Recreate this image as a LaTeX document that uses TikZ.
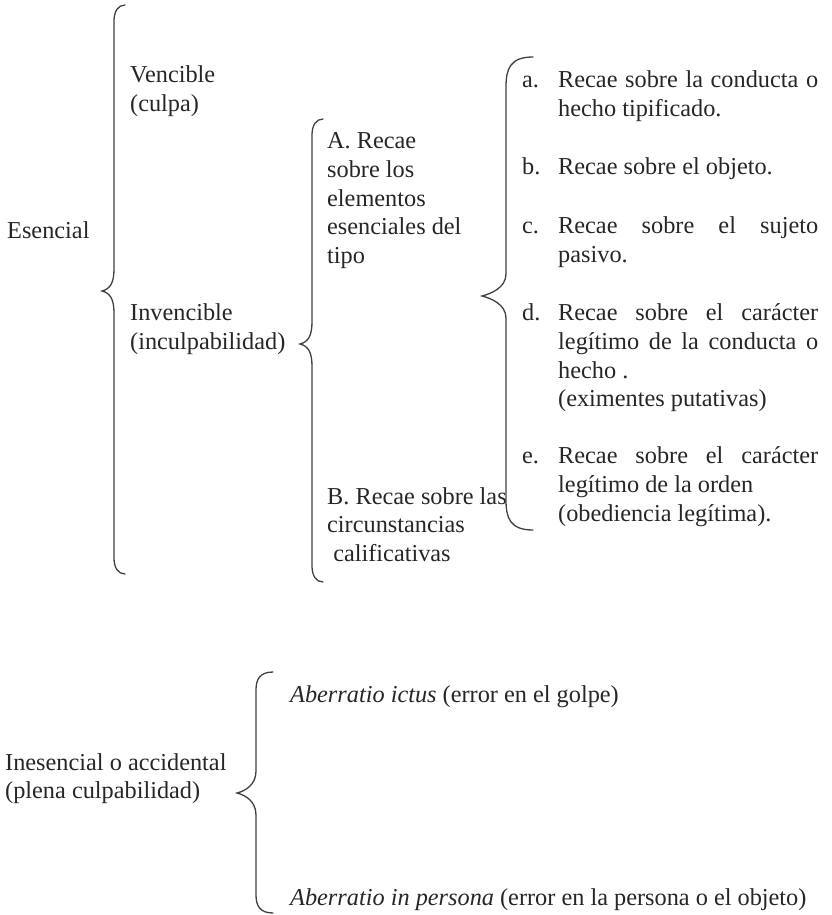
\documentclass[tikz,border=0pt]{standalone}
\usepackage{fontspec}
\setmainfont{Liberation Serif}

% text blocks and justified lines
\newcommand{\txtlines}[1]{\begin{tabular}[t]{@{}l@{}}#1\end{tabular}}
\newcommand{\fullline}[1]{\makebox[260pt][s]{#1}}
% curly brace: end x, line x, tip x, top y, tip y, bottom y, curl height
\newcommand{\curlybrace}[7]{%
  \draw[bracket] (#1,#4) .. controls (#2+4,#4) and (#2,#4+#7*0.4) .. (#2,#4+#7)
    -- (#2,#5-22) .. controls (#2,#5-8) and (#3+8,#5-2) .. (#3,#5)
    .. controls (#3+8,#5+2) and (#2,#5+8) .. (#2,#5+22)
    -- (#2,#6-#7) .. controls (#2,#6-#7*0.4) and (#2+4,#6) .. (#1,#6);}

\begin{document}
\begin{tikzpicture}[x=1pt,y=-1pt,
    txt/.style={anchor=base west, inner sep=0pt, text=black!85,
      font=\fontsize{24.3}{28.8}\selectfont},
    bracket/.style={draw=black!75, line width=1.3pt, line cap=round}]
  \useasboundingbox (0,0) rectangle (831,915);

  % Esencial
  \node[txt] (esencial) at (7,238) {Esencial};
  \curlybrace{125}{114}{102}{5}{291}{574}{16}
  \node[txt] (vencible) at (130,83) {\txtlines{Vencible\\(culpa)}};
  \node[txt] (invencible) at (130,320.5) {\txtlines{Invencible\\(inculpabilidad)}};

  % Invencible: A and B
  \curlybrace{323}{312}{300}{119}{344}{582}{16}
  \node[txt] (recaeA) at (327,148.5) {\txtlines{A. Recae\\sobre los\\elementos\\esenciales del\\tipo}};
  \node[txt] (recaeB) at (327,504) {\txtlines{B. Recae sobre las\\circunstancias\\~calificativas}};

  % elementos esenciales del tipo: a to e
  \curlybrace{533}{506}{482}{57}{296}{530}{30}
  \node[txt] (itema) at (522,88) {\makebox[36pt][l]{a.}\txtlines{\fullline{Recae sobre la conducta o}\\hecho tipificado.}};
  \node[txt] (itemb) at (522,174.5) {\makebox[36pt][l]{b.}\txtlines{Recae sobre el objeto.}};
  \node[txt] (itemc) at (522,233.5) {\makebox[36pt][l]{c.}\txtlines{\fullline{Recae sobre el sujeto}\\pasivo.}};
  \node[txt] (itemd) at (522,320.5) {\makebox[36pt][l]{d.}\txtlines{\fullline{Recae sobre el carácter}\\\fullline{legítimo de la conducta o}\\hecho .\\(eximentes putativas)}};
  \node[txt] (iteme) at (522,463.5) {\makebox[36pt][l]{e.}\txtlines{\fullline{Recae sobre el carácter}\\legítimo de la orden\\(obediencia legítima).}};

  % Inesencial
  \node[txt] (inesencial) at (5,770) {\txtlines{Inesencial o accidental\\(plena culpabilidad)}};
  \curlybrace{273}{256}{237}{672}{793}{913}{18}
  \node[txt] (ictus) at (290,702) {\textit{Aberratio ictus} (error en el golpe)};
  \node[txt] (persona) at (290,905) {\textit{Aberratio in persona} (error en la persona o el objeto)};
\end{tikzpicture}
\end{document}
